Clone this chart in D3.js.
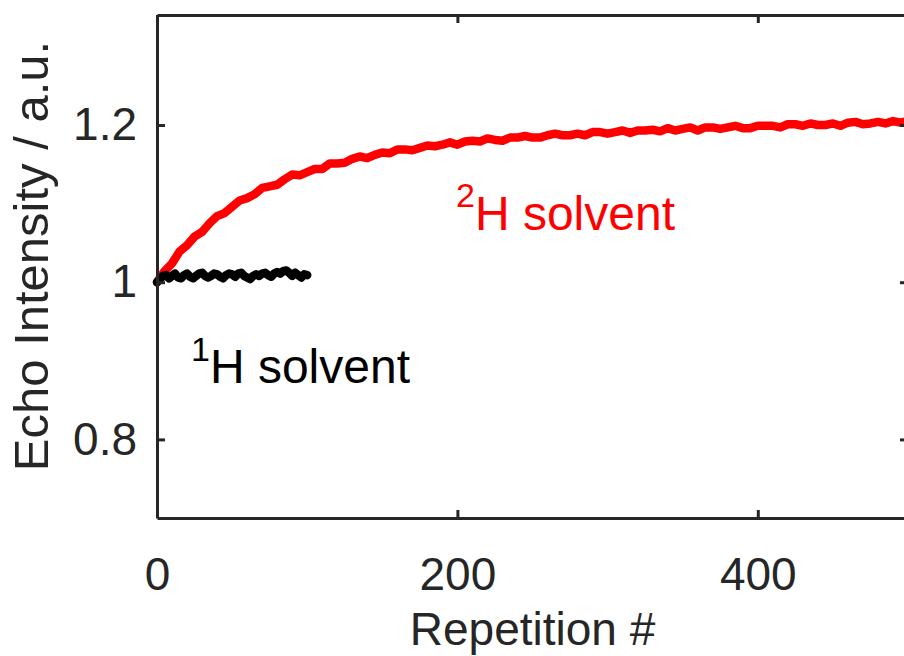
<!DOCTYPE html>
<html>
<head>
<meta charset="utf-8">
<script src="https://cdn.jsdelivr.net/npm/d3@7"></script>
<style>
  body { margin: 0; background: #fff; }
  svg { display: block; }
  text { font-family: "Liberation Sans", Arial, Helvetica, sans-serif; }
</style>
</head>
<body>
<svg id="chart" width="904" height="656"></svg>
<script>
// ---- data ----
const repsD2 = [0,5,10,15,20,25,30,35,40,45,50,55,60,65,70,75,80,85,90,95,100,105,110,115,120,125,130,135,140,145,150,155,160,165,170,175,180,185,190,195,200,205,210,215,220,225,230,235,240,245,250,255,260,265,270,275,280,285,290,295,300,305,310,315,320,325,330,335,340,345,350,355,360,365,370,375,380,385,390,395,400,405,410,415,420,425,430,435,440,445,450,455,460,465,470,475,480,485,490,495,500];
const echoD2 = [1.000,1.014,1.024,1.039,1.047,1.058,1.064,1.075,1.084,1.088,1.096,1.104,1.107,1.112,1.120,1.122,1.124,1.131,1.137,1.136,1.140,1.144,1.144,1.151,1.151,1.152,1.157,1.160,1.158,1.162,1.165,1.164,1.169,1.169,1.168,1.171,1.174,1.173,1.175,1.178,1.175,1.179,1.180,1.179,1.183,1.181,1.180,1.184,1.184,1.186,1.184,1.184,1.187,1.189,1.187,1.187,1.189,1.187,1.191,1.191,1.189,1.191,1.193,1.190,1.193,1.193,1.194,1.192,1.196,1.193,1.195,1.197,1.193,1.197,1.197,1.195,1.197,1.199,1.196,1.196,1.199,1.199,1.199,1.197,1.201,1.201,1.199,1.202,1.200,1.200,1.202,1.199,1.203,1.204,1.201,1.202,1.204,1.202,1.205,1.203,1.205];
const repsH1 = [0,2,4,6,8,10,12,14,16,18,20,22,24,26,28,30,32,34,36,38,40,42,44,46,48,50,52,54,56,58,60,62,64,66,68,70,72,74,76,78,80,82,84,86,88,90,92,94,96,98,100];
const echoH1 = [1.000,1.004,1.008,1.009,1.005,1.008,1.011,1.006,1.005,1.009,1.011,1.007,1.005,1.008,1.011,1.012,1.008,1.006,1.008,1.011,1.010,1.007,1.005,1.009,1.011,1.010,1.007,1.011,1.012,1.008,1.006,1.004,1.008,1.010,1.008,1.011,1.012,1.009,1.007,1.011,1.013,1.011,1.014,1.015,1.012,1.008,1.012,1.009,1.006,1.010,1.009];
const xTicks = [0, 200, 400];
const yTicks = [0.8, 1, 1.2];
const xDomain = [0, 500];
const yDomain = [0.7, 1.34];

// ---- layout ----
const L = 157, R = 908, T = 15, B = 518;
const ink = "#262626";
const svg = d3.select("#chart");

const x = d3.scaleLinear().domain(xDomain).range([L, R]);
const y = d3.scaleLinear().domain(yDomain).range([B, T]);

const line = d3.line().x(d => x(d[0])).y(d => y(d[1]));

svg.append("path")
  .datum(repsD2.map((r, i) => [r, echoD2[i]]))
  .attr("d", line).attr("fill", "none")
  .attr("stroke", "#ff0000").attr("stroke-width", 8.5)
  .attr("stroke-linejoin", "round").attr("stroke-linecap", "round");

svg.append("path")
  .datum(repsH1.map((r, i) => [r, echoH1[i]]))
  .attr("d", line).attr("fill", "none")
  .attr("stroke", "#000000").attr("stroke-width", 8.5)
  .attr("stroke-linejoin", "round").attr("stroke-linecap", "round");

function styleAxis(g) {
  g.select(".domain").attr("stroke", ink).attr("stroke-width", 3);
  g.selectAll(".tick line").attr("stroke", ink).attr("stroke-width", 3);
  g.selectAll(".tick text").attr("fill", ink).style("font-size", "46px")
    .style("font-family", "'Liberation Sans', Arial, sans-serif");
}

svg.append("g").attr("transform", `translate(0,${B})`)
  .call(d3.axisBottom(x).tickValues(xTicks).tickFormat(d3.format("d")).tickSize(-8).tickSizeOuter(0).tickPadding(39))
  .call(styleAxis);
svg.append("g").attr("transform", `translate(0,${T})`)
  .call(d3.axisTop(x).tickValues(xTicks).tickFormat("").tickSize(-8).tickSizeOuter(0))
  .call(styleAxis);
svg.append("g").attr("transform", `translate(${L},0)`)
  .call(d3.axisLeft(y).tickValues(yTicks).tickFormat(d => d3.format("")(d)).tickSize(-8).tickSizeOuter(0).tickPadding(20))
  .call(styleAxis);
svg.append("g").attr("transform", `translate(${R},0)`)
  .call(d3.axisRight(y).tickValues(yTicks).tickFormat("").tickSize(-8).tickSizeOuter(0))
  .call(styleAxis);

// axis titles
svg.append("text").attr("x", (L + R) / 2).attr("y", 645)
  .attr("text-anchor", "middle").attr("fill", ink).style("font-size", "46px")
  .text("Repetition #");
svg.append("text")
  .attr("transform", `translate(48,256) rotate(-90)`)
  .attr("text-anchor", "middle").attr("fill", ink).style("font-size", "49px")
  .text("Echo Intensity / a.u.");

// annotations
const a2 = svg.append("text").attr("x", 456).attr("y", 230).attr("fill", "#ff0000").style("font-size", "48px");
a2.append("tspan").style("font-size", "34px").attr("dy", -23).text("2");
a2.append("tspan").attr("dy", 23).text("H solvent");

const a1 = svg.append("text").attr("x", 191).attr("y", 383).attr("fill", "#000000").style("font-size", "48px");
a1.append("tspan").style("font-size", "34px").attr("dy", -22).text("1");
a1.append("tspan").attr("dy", 22).text("H solvent");
</script>
</body>
</html>
